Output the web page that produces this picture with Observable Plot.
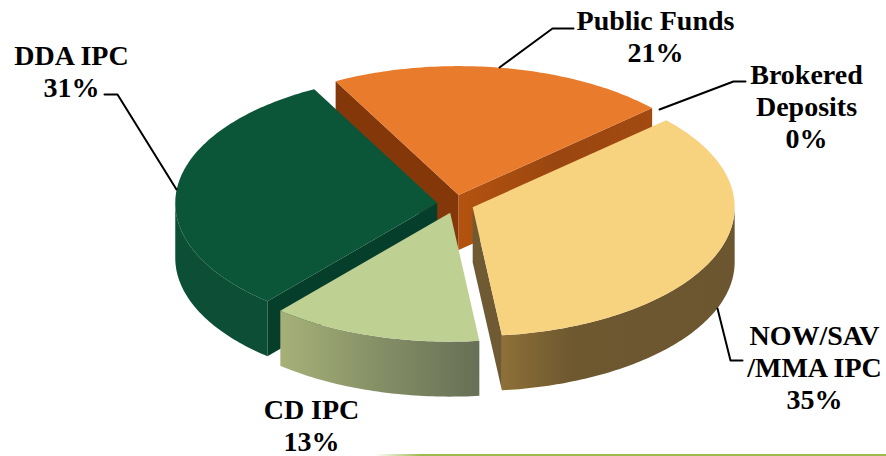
<!DOCTYPE html>
<html>
<head>
<meta charset="utf-8">
<style>html,body{margin:0;padding:0;background:#fff}svg{display:block}</style>
<script src="https://cdn.jsdelivr.net/npm/d3@7"></script>
<script src="https://cdn.jsdelivr.net/npm/@observablehq/plot@0.6"></script>
</head>
<body>
<script>
// Deposit mix, clockwise from the back of the pie
const names = ["Public Funds", "Brokered Deposits", "NOW/SAV /MMA IPC", "CD IPC", "DDA IPC"];
const shares = [21, 0, 35, 13, 31];

const labelLines = [["Public Funds"], ["Brokered", "Deposits"], ["NOW/SAV", "/MMA IPC"], ["CD IPC"], ["DDA IPC"]];
const labelX = [655, 806, 814, 311, 71];
const labelBaseline = [28, 82, 343, 417, 63];

const leaderX = [[499, 552, 573], [659, 733, 745], [717, 730, 742], [], [176, 117, 104]];
const leaderY = [[67, 28, 28], [109, 81, 81], [308, 360, 360], [], [189, 94, 94]];

const topColors = ["#E97B2C", "#E97B2C", "#F7D37F", "#BFD093", "#0B5538"];
const rimColors = ["#A34A12", "#A34A12", "url(#rimNow)", "url(#rimCd)", "#0D4F36"];
const startCutColors = ["#843809", "#843809", "#6F5A33", "#6F7A55", "#053E2A"];
const endCutColors = ["url(#cutOrange)", "url(#cutOrange)", "#6F5A33", "#6F7A55", "#053E2A"];

// Pie geometry on screen
const cx = 455, cy = 203.5, rx = 262, ry = 129, depth = 55, explode = 0.07;
const firstAngle = -28 * Math.PI / 180;

const arcs = d3.pie().value(d => d).sort(null)
  .startAngle(firstAngle).endAngle(firstAngle + 2 * Math.PI)(shares);

const rimPoint = (a, ox, oy, dz = 0) => ({x: ox + rx * Math.sin(a), y: oy - ry * Math.cos(a) + dz});

function arcPath(a0, a1, ox, oy, dz) {
  const n = Math.max(2, Math.ceil(Math.abs(a1 - a0) * 60));
  return d3.range(n + 1).map(i => rimPoint(a0 + (a1 - a0) * i / n, ox, oy, dz));
}

// Each slice becomes its visible faces, back to front
function sliceFaces(i) {
  const {startAngle: a0, endAngle: a1} = arcs[i];
  const mid = (a0 + a1) / 2;
  const ox = cx + explode * rx * Math.sin(mid);
  const oy = cy - explode * ry * Math.cos(mid);
  const apex = {x: ox, y: oy};
  const apexLow = {x: ox, y: oy + depth};
  const faces = [];
  if (Math.sin(a0) < 0) {
    const p = rimPoint(a0, ox, oy);
    faces.push({pts: [apex, p, {x: p.x, y: p.y + depth}, apexLow], fill: startCutColors[i]});
  }
  if (Math.sin(a1) > 0) {
    const p = rimPoint(a1, ox, oy);
    faces.push({pts: [apex, p, {x: p.x, y: p.y + depth}, apexLow], fill: endCutColors[i]});
  }
  // The outer wall only shows along the front half of the ellipse
  const lo = Math.max(a0, Math.PI / 2), hi = Math.min(a1, 3 * Math.PI / 2);
  if (hi > lo) {
    faces.push({
      pts: [...arcPath(lo, hi, ox, oy, 0), ...arcPath(hi, lo, ox, oy, depth)],
      fill: rimColors[i]
    });
  }
  faces.push({pts: [apex, ...arcPath(a0, a1, ox, oy, 0)], fill: topColors[i]});
  return faces;
}

const gradients = () => {
  const defs = d3.create("svg:defs");
  const add = (id, stops) => {
    const g = defs.append("linearGradient").attr("id", id);
    stops.forEach(([o, c]) => g.append("stop").attr("offset", o).attr("stop-color", c));
  };
  add("rimNow", [[0, "#8E7037"], [0.3, "#6E5830"], [1, "#6B5630"]]);
  add("rimCd", [[0, "#A6B178"], [0.5, "#858F66"], [1, "#676F55"]]);
  add("cutOrange", [[0, "#B4530F"], [0.5, "#9A4610"], [1, "#A24A10"]]);
  add("footRule", [[0, "#FFFFFF"], [0.09, "#9CBB4F"], [1, "#9CBB4F"]]);
  return defs.node();
};

const paintOrder = [0, 4, 2, 3];
const faceMarks = paintOrder.flatMap(i => sliceFaces(i)).map(f =>
  Plot.line([...f.pts, f.pts[0]], {x: "x", y: "y", fill: f.fill, stroke: "none"})
);

const labelRows = names.flatMap((_, i) =>
  [...labelLines[i], shares[i] + "%"].map((text, row) => ({
    text, x: labelX[i], y: labelBaseline[i] + row * 32
  }))
);

const leaderRows = leaderX.flatMap((xs, i) => xs.map((x, k) => ({x, y: leaderY[i][k], id: i})));

const chart = Plot.plot({
  width: 886,
  height: 456,
  margin: 0,
  style: {background: "#fff"},
  x: {domain: [0, 886], range: [0, 886], axis: null},
  y: {domain: [0, 456], range: [0, 456], axis: null},
  marks: [
    gradients,
    ...faceMarks,
    Plot.rect([{x1: 375, x2: 886, y1: 454, y2: 456}], {x1: "x1", x2: "x2", y1: "y1", y2: "y2", fill: "url(#footRule)"}),
    Plot.line(leaderRows, {x: "x", y: "y", z: "id", stroke: "#000", strokeWidth: 2}),
    Plot.text(labelRows, {
      x: "x", y: "y", text: "text", textAnchor: "middle", lineAnchor: "bottom",
      dy: 1,
      fontFamily: "Liberation Serif", fontWeight: "bold", fontSize: 28, fill: "#000"
    })
  ]
});
document.body.appendChild(chart);
</script>
</body>
</html>
